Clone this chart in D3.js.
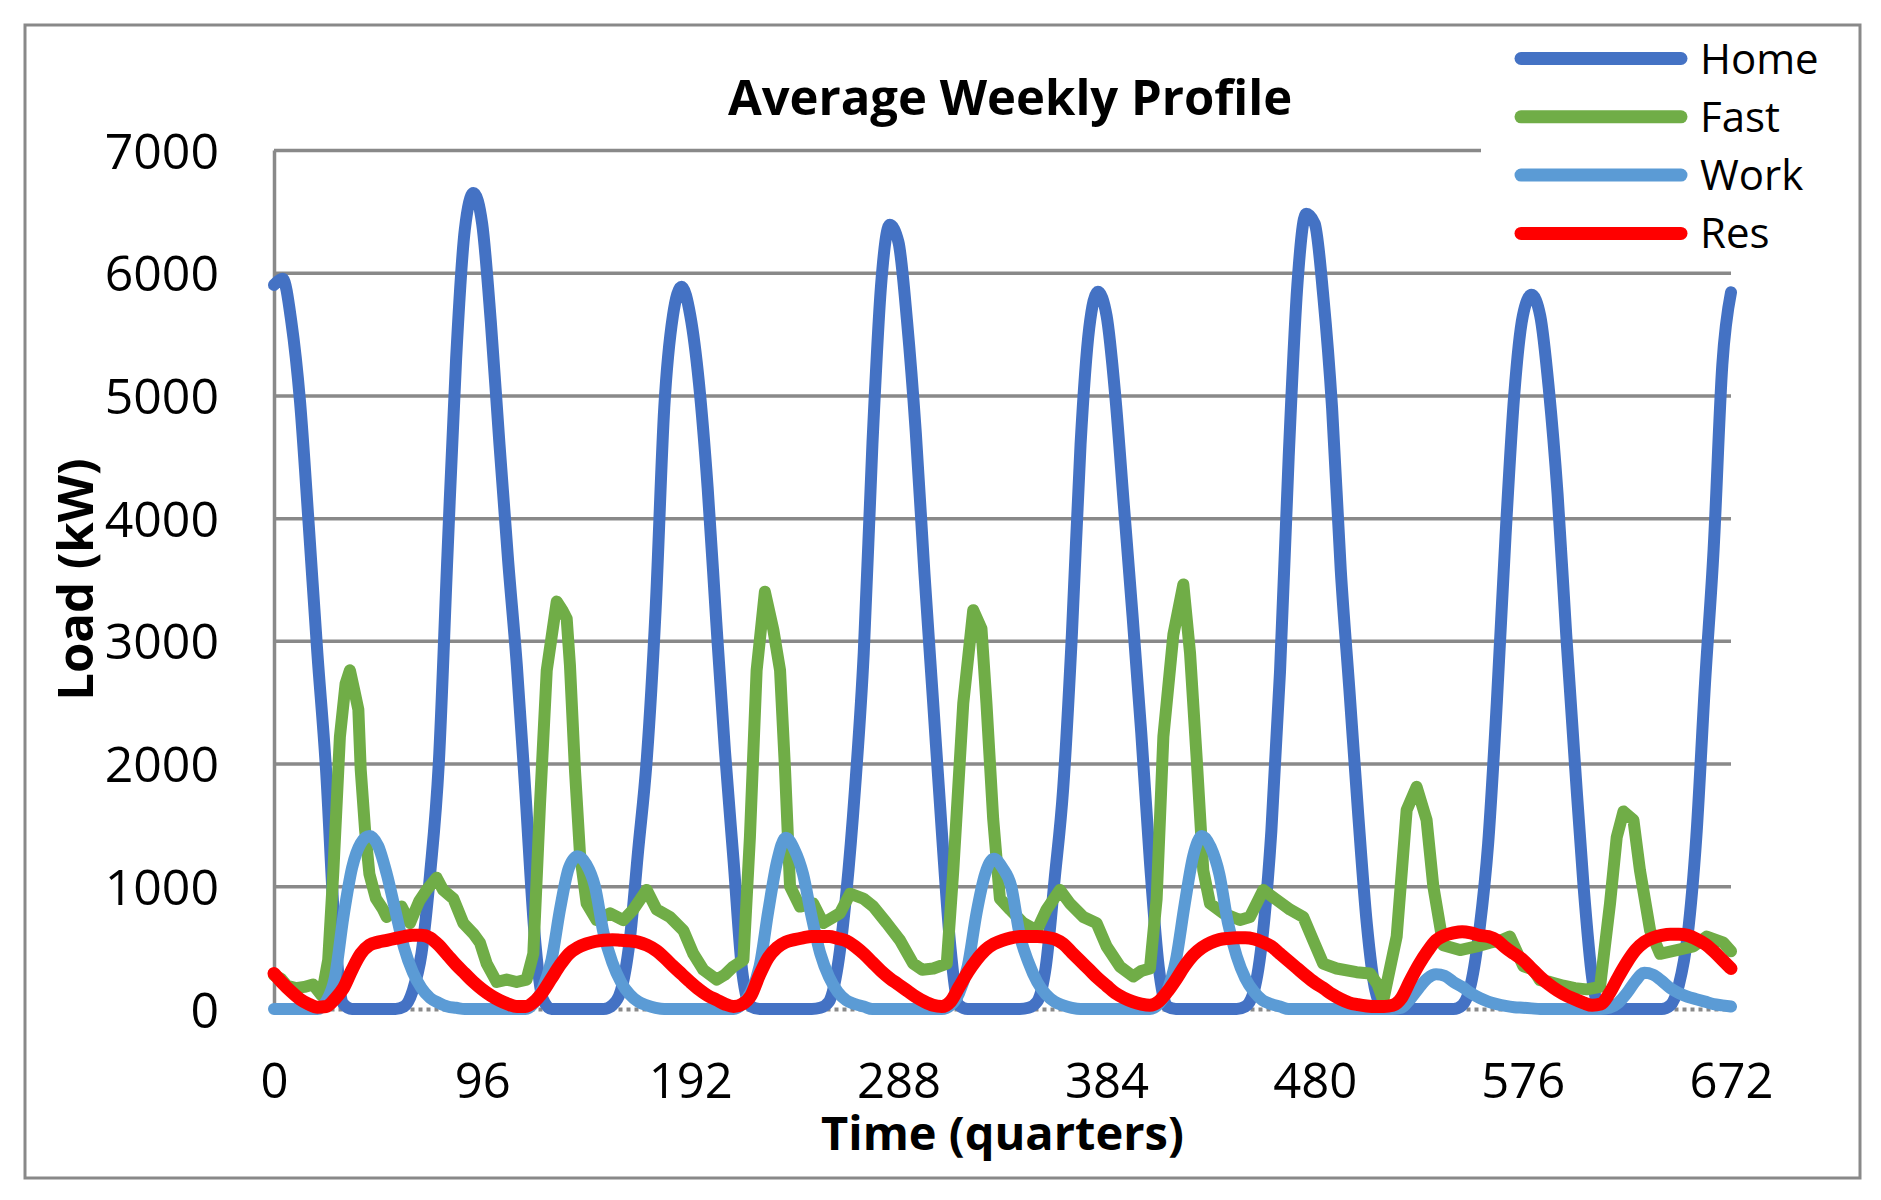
<!DOCTYPE html>
<html>
<head>
<meta charset="utf-8">
<script src="https://cdn.jsdelivr.net/npm/d3@7/dist/d3.min.js"></script>
<style>
    body { margin: 0; background: #ffffff; }
    text { font-family: "Open Sans", "Liberation Sans", sans-serif; fill: #000000; }
</style>
</head>
<body>
<div id="chart"></div>
<script>
// quarter index of each sample (one sample per hour)
var quarters = [
    0, 4, 8, 12, 16, 20, 24, 28, 32, 36, 40, 44,
    48, 52, 56, 60, 64, 68, 72, 76, 80, 84, 88, 92,
    96, 100, 104, 108, 112, 116, 120, 124, 128, 132, 136, 140,
    144, 148, 152, 156, 160, 164, 168, 172, 176, 180, 184, 188,
    192, 196, 200, 204, 208, 212, 216, 220, 224, 228, 232, 236,
    240, 244, 248, 252, 256, 260, 264, 268, 272, 276, 280, 284,
    288, 292, 296, 300, 304, 308, 312, 316, 320, 324, 328, 332,
    336, 340, 344, 348, 352, 356, 360, 364, 368, 372, 376, 380,
    384, 388, 392, 396, 400, 404, 408, 412, 416, 420, 424, 428,
    432, 436, 440, 444, 448, 452, 456, 460, 464, 468, 472, 476,
    480, 484, 488, 492, 496, 500, 504, 508, 512, 516, 520, 524,
    528, 532, 536, 540, 544, 548, 552, 556, 560, 564, 568, 572,
    576, 580, 584, 588, 592, 596, 600, 604, 608, 612, 616, 620,
    624, 628, 632, 636, 640, 644, 648, 652, 656, 660, 664, 668,
    672
];

var homeLoad = [
    5900, 5950, 5600, 4950, 3950, 2900, 1950, 650, 40, 0, 0, 0,
    0, 0, 0, 20, 150, 450, 1100, 2000, 3700, 5300, 6350, 6650,
    6400, 5600, 4600, 3650, 2800, 1750, 650, 80, 0, 0, 0, 0,
    0, 0, 0, 30, 150, 550, 1300, 2050, 3250, 4900, 5650, 5885,
    5650, 5100, 4250, 3150, 2100, 1200, 300, 20, 0, 0, 0, 0,
    0, 0, 0, 10, 60, 350, 950, 1800, 2900, 4600, 5900, 6390,
    6250, 5600, 4700, 3550, 2500, 1450, 500, 30, 0, 0, 0, 0,
    0, 0, 0, 10, 60, 350, 1050, 1800, 3050, 4600, 5550, 5845,
    5650, 5000, 4100, 3200, 2250, 1200, 350, 20, 0, 0, 0, 0,
    0, 0, 0, 0, 20, 150, 600, 1450, 2750, 4500, 5900, 6480,
    6400, 5800, 4900, 3580, 2600, 1600, 700, 150, 0, 0, 0, 0,
    0, 0, 0, 0, 0, 30, 200, 650, 1350, 2500, 3850, 5000,
    5650, 5820, 5650, 5050, 4200, 3050, 2000, 1000, 250, 0, 0, 0,
    0, 0, 0, 0, 0, 30, 200, 600, 1400, 2650, 3750, 5250,
    5840
];

var workLoad = [
    0, 0, 0, 0, 0, 0, 60, 250, 750, 1150, 1350, 1410,
    1330, 1100, 800, 500, 300, 170, 90, 50, 20, 10, 0, 0,
    0, 0, 0, 0, 0, 0, 50, 170, 400, 820, 1150, 1245,
    1180, 1000, 620, 380, 220, 120, 60, 30, 10, 0, 0, 0,
    0, 0, 0, 0, 0, 0, 40, 140, 350, 800, 1200, 1396,
    1300, 1100, 750, 450, 260, 140, 70, 40, 20, 0, 0, 0,
    0, 0, 0, 0, 0, 0, 30, 130, 350, 780, 1100, 1225,
    1150, 1000, 600, 380, 220, 120, 60, 30, 10, 0, 0, 0,
    0, 0, 0, 0, 0, 0, 40, 150, 400, 850, 1250, 1410,
    1320, 1100, 700, 430, 250, 140, 70, 40, 20, 0, 0, 0,
    0, 0, 0, 0, 0, 0, 0, 0, 0, 0, 10, 80,
    170, 250, 283, 270, 220, 180, 130, 90, 60, 40, 25, 15,
    10, 5, 0, 0, 0, 0, 0, 0, 0, 0, 10, 50,
    130, 230, 296, 280, 230, 170, 130, 100, 80, 60, 40, 30,
    20
];

var resLoad = [
    290, 210, 140, 80, 40, 15, 20, 80, 170, 320, 450, 520,
    545, 560, 575, 590, 600, 600, 580, 520, 440, 360, 290, 220,
    160, 110, 70, 40, 20, 20, 60, 140, 250, 360, 450, 500,
    530, 550, 560, 565, 560, 555, 545, 520, 480, 420, 350, 285,
    220, 160, 110, 75, 40, 20, 40, 110, 280, 420, 500, 545,
    565, 580, 590, 590, 590, 575, 555, 510, 450, 380, 310, 250,
    200, 150, 100, 60, 30, 20, 60, 180, 300, 400, 480, 530,
    560, 580, 590, 590, 590, 585, 570, 530, 460, 390, 320, 250,
    190, 130, 90, 60, 40, 30, 60, 140, 240, 350, 440, 500,
    540, 565, 575, 580, 580, 570, 545, 510, 450, 390, 330, 270,
    215, 170, 120, 80, 50, 35, 25, 20, 20, 30, 90, 230,
    360, 470, 560, 600, 620, 630, 620, 600, 590, 560, 500, 450,
    400, 330, 260, 200, 150, 110, 80, 50, 30, 40, 130, 260,
    380, 480, 545, 580, 600, 610, 610, 600, 570, 530, 470, 400,
    330
];

// fast charging is noisy, read at its own points
var fastQuarter = [
    0, 3, 6, 10, 14, 18, 22, 25, 27.4, 30.4, 33, 35, 37, 38.9, 40, 42, 44, 47, 50, 52, 55, 58.8,
    62.7, 64.6, 67, 70.4, 75, 78, 82.7, 87.3, 91.9, 95, 98.1, 102.7, 107.3, 111.9, 116.5, 119.6,
    122.7, 125.8, 130.4, 133, 135, 136.5, 138.8, 141.1, 144.2, 148.8, 155, 161.1, 165.7, 171.9,
    176.5, 182.6, 188.8, 193.4, 198, 204.2, 208, 211.8, 216.5, 219.5, 222.6, 226.4, 230.3, 233.4,
    235.7, 238, 242.6, 248.7, 253.3, 261, 265.7, 271.8, 276.4, 282.6, 288.7, 294.8, 299, 304.1,
    310.3, 313.3, 317.9, 322.5, 326.3, 328.6, 331.7, 334.8, 339.5, 345.6, 351.8, 356.3, 362.5,
    367.1, 373.3, 379.4, 384, 390.2, 396.3, 400, 404, 407.1, 410.2, 414.8, 419.4, 422.5, 425.6,
    428.6, 431.7, 437.8, 445.5, 450.1, 456.3, 462.4, 468.6, 474.7, 479.3, 483.9, 490.1, 499.3,
    505.5, 509, 511.6, 517.8, 522.4, 527, 531.6, 534.7, 539.3, 547, 554.7, 560.8, 566, 570,
    576.2, 580.8, 583.9, 588.5, 594.7, 600, 605.5, 611.6, 616.2, 619.3, 622.4, 627, 630, 634.7,
    639.3, 647, 654.6, 660.8, 668.5, 672
];
var fastLoad = [
    275, 250, 190, 170, 180, 200, 110, 400, 1130, 2220, 2650, 2760, 2600, 2440, 1950, 1460, 1100, 900, 820, 750, 800, 835,
    700, 780, 880, 970, 1070, 970, 900, 700, 615, 540, 370, 220, 240, 220, 240, 450,
    1675, 2760, 3320, 3250, 3180, 2800, 1950, 1270, 860, 725, 780, 725, 810, 970,
    810, 750, 640, 450, 320, 240, 280, 345, 400, 1400, 2760, 3400, 3090, 2760,
    1950, 1000, 835, 860, 700, 780, 940, 900, 835, 700, 560, 370, 320, 330,
    370, 1130, 2490, 3250, 3100, 2490, 1550, 900, 810, 700, 640, 810, 970,
    860, 750, 700, 510, 345, 265, 310, 330, 900, 2220, 3050, 3460, 2900, 2030,
    1130, 860, 780, 725, 750, 970, 890, 810, 750, 560, 370, 330, 300,
    290, 200, 70, 590, 1620, 1810, 1540, 1000, 520, 480, 510, 540, 560, 590,
    350, 320, 235, 220, 190, 170, 160, 180, 860, 1400, 1610, 1540, 1130, 640,
    450, 480, 510, 590, 540, 470
];

var seriesNames = ['Home', 'Fast', 'Work', 'Res'];
var seriesColors = ['#4472C4', '#70AD47', '#5B9BD5', '#FF0000'];
var xTickValues = [0, 96, 192, 288, 384, 480, 576, 672];
var yTickValues = [0, 1000, 2000, 3000, 4000, 5000, 6000, 7000];

var configData = {
    width: 1881,
    height: 1200,
    margin: {top: 150, right: 150, bottom: 191, left: 274}
};

var plotRight = configData.width - configData.margin.right;
var plotBottom = configData.height - configData.margin.bottom;
var gridColor = '#898989';

var x = d3.scaleLinear().domain([0, 672]).range([configData.margin.left, plotRight]);
var y = d3.scaleLinear().domain([0, 7000]).range([plotBottom, configData.margin.top]);

var chartSvg = d3.select('#chart').append('svg')
    .attr('width', configData.width)
    .attr('height', configData.height);

//outer frame
chartSvg.append('rect')
    .attr('x', 25).attr('y', 25)
    .attr('width', 1835).attr('height', 1153)
    .attr('fill', '#ffffff')
    .attr('stroke', gridColor)
    .attr('stroke-width', 3);

//gridlines + y labels
var yAxis = chartSvg.append('g')
    .attr('transform', 'translate(' + configData.margin.left + ',0)')
    .call(d3.axisLeft(y).tickValues(yTickValues)
        .tickSize(-(plotRight - configData.margin.left))
        .tickSizeOuter(0)
        .tickFormat(d3.format('d')));
yAxis.select('.domain')
    .attr('stroke', gridColor)
    .attr('stroke-width', 3.5);
yAxis.selectAll('.tick line')
    .attr('stroke', gridColor)
    .attr('stroke-width', 3.5)
    .attr('display', function (d) { return d === 0 ? 'none' : null; });
yAxis.selectAll('.tick text')
    .attr('x', 219 - configData.margin.left)
    .attr('dy', '0.36em')
    .attr('font-size', '50px')
    .attr('font-family', '"Open Sans", sans-serif')
    .attr('fill', '#000000');

//x axis, dotted baseline
var xAxis = chartSvg.append('g')
    .attr('transform', 'translate(0,' + plotBottom + ')')
    .call(d3.axisBottom(x).tickValues(xTickValues).tickSize(0).tickFormat(d3.format('d')));
xAxis.select('.domain')
    .attr('stroke', gridColor)
    .attr('stroke-width', 4)
    .attr('stroke-dasharray', '4,4');
xAxis.selectAll('.tick text')
    .attr('y', 89)
    .attr('dy', 0)
    .attr('font-size', '49px')
    .attr('font-family', '"Open Sans", sans-serif')
    .attr('fill', '#000000');

//legend background hides the top gridline behind the legend
chartSvg.append('rect')
    .attr('x', 1481).attr('y', 30)
    .attr('width', 375).attr('height', 232)
    .attr('fill', '#ffffff');

//draw series
var homeLine = d3.line()
    .x(function (d, i) { return x(quarters[i]); })
    .y(function (d) { return y(d); })
    .curve(d3.curveMonotoneX);
var fastLine = d3.line()
    .x(function (d, i) { return x(fastQuarter[i]); })
    .y(function (d) { return y(d); });

var seriesData = [homeLoad, fastLoad, workLoad, resLoad];
var seriesWidth = [12, 12, 12, 13];
seriesData.forEach(function (values, index) {
    chartSvg.append('path')
        .attr('d', index === 1 ? fastLine(values) : homeLine(values))
        .attr('fill', 'none')
        .attr('stroke', seriesColors[index])
        .attr('stroke-width', seriesWidth[index])
        .attr('stroke-linejoin', 'round')
        .attr('stroke-linecap', 'round');
});

//legend
seriesNames.forEach(function (name, index) {
    var rowY = 58.5 + index * 58.3;
    chartSvg.append('line')
        .attr('x1', 1521).attr('y1', rowY)
        .attr('x2', 1681).attr('y2', rowY)
        .attr('stroke', seriesColors[index])
        .attr('stroke-width', 13)
        .attr('stroke-linecap', 'round');
    chartSvg.append('text')
        .text(name)
        .attr('x', 1700)
        .attr('y', rowY + 15)
        .attr('font-size', '42px');
});

//title
chartSvg.append('text')
    .text('Average Weekly Profile')
    .attr('x', 1010)
    .attr('y', 115)
    .attr('text-anchor', 'middle')
    .attr('font-size', '49px')
    .attr('font-weight', 'bold');

//axis titles
chartSvg.append('text')
    .text('Time (quarters)')
    .attr('x', (configData.margin.left + plotRight) / 2)
    .attr('y', 1150)
    .attr('text-anchor', 'middle')
    .attr('font-size', '47px')
    .attr('font-weight', 'bold');

chartSvg.append('text')
    .text('Load (kW)')
    .attr('transform', 'translate(93,' + (configData.margin.top + plotBottom) / 2 + ') rotate(-90)')
    .attr('text-anchor', 'middle')
    .attr('font-size', '49px')
    .attr('font-weight', 'bold');
</script>
</body>
</html>
